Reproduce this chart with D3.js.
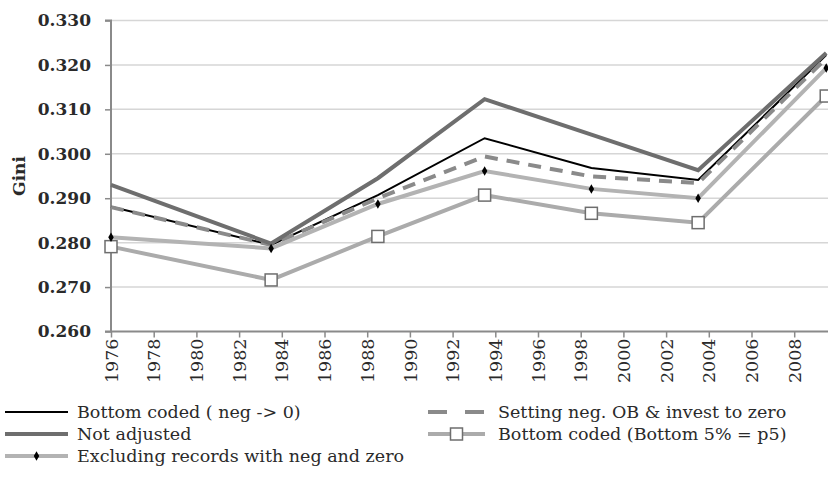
<!DOCTYPE html>
<html><head><meta charset="utf-8">
<script src="https://cdn.jsdelivr.net/npm/d3@7"></script>
<style>
html,body{margin:0;padding:0;background:#fff;}
svg{display:block;}
text{font-family:"DejaVu Serif",serif;fill:#2a2a2a;}
</style></head>
<body>
<svg id="c" width="828" height="494"></svg>
<script>
const years = [1976, 1983.5, 1988.5, 1993.5, 1998.5, 2003.5, 2009.5];
const bottomCoded = [0.2881, 0.2795, 0.2907, 0.3035, 0.2968, 0.2941, 0.3222];
const settingNeg  = [0.2880, 0.2795, 0.2900, 0.2994, 0.2949, 0.2934, 0.3215];
const notAdjusted = [0.2930, 0.2798, 0.2945, 0.3123, 0.3043, 0.2963, 0.3227];
const bottomP5    = [0.2791, 0.2716, 0.2814, 0.2907, 0.2866, 0.2845, 0.3130];
const excluding   = [0.2812, 0.2787, 0.2887, 0.2961, 0.2921, 0.2900, 0.3193];
const yTicks = [0.260, 0.270, 0.280, 0.290, 0.300, 0.310, 0.320, 0.330];
const xTicks = d3.range(1976, 2009, 2);
const seriesNames = ["Bottom coded ( neg -> 0)", "Setting neg. OB & invest to zero", "Not adjusted", "Bottom coded (Bottom 5% = p5)", "Excluding records with neg and zero"];

const svg = d3.select("#c");
const x = d3.scaleLinear().domain([1976, 2010]).range([111, 111 + 34 * 21.35]);
const y = d3.scaleLinear().domain([0.26, 0.33]).range([331.5, 20.5]);

// gridlines
svg.append("g").selectAll("line").data(yTicks.slice(1)).join("line")
  .attr("x1", 111).attr("x2", 828)
  .attr("y1", d => y(d)).attr("y2", d => y(d))
  .attr("stroke", "#d6d6d6").attr("stroke-width", 1.5);

// y axis
const yAx = svg.append("g").attr("transform", "translate(111,0)")
  .call(d3.axisLeft(y).tickValues(yTicks).tickFormat(d3.format(".3f")).tickSize(6).tickPadding(14));
yAx.select(".domain").attr("stroke", "#8a8a8a").attr("stroke-width", 2).attr("d", `M-6,${y(0.33)}H0V${y(0.26)}H-6`);
yAx.selectAll(".tick line").attr("stroke", "#8a8a8a").attr("stroke-width", 1.5);
yAx.selectAll(".tick text").attr("font-size", 17).attr("font-family", "DejaVu Serif").attr("fill", "#333").attr("font-weight", "bold");

// x axis
const xAx = svg.append("g").attr("transform", `translate(0,${y(0.26)})`)
  .call(d3.axisBottom(x).tickValues(xTicks).tickFormat(d3.format("d")).tickSize(6));
xAx.select(".domain").attr("stroke", "#8a8a8a").attr("stroke-width", 2).attr("d", `M111,0H828`);
xAx.selectAll(".tick line").attr("stroke", "#8a8a8a").attr("stroke-width", 1.5);
xAx.selectAll(".tick text").attr("font-size", 17.5).attr("font-family", "DejaVu Serif").attr("fill", "#2a2a2a")
  .attr("transform", "rotate(-90)").attr("text-anchor", "end").attr("x", -7).attr("y", 0).attr("dy", "0.35em");

// y label
svg.append("text").attr("transform", "translate(19,176) rotate(-90)").attr("text-anchor", "middle")
  .attr("dy", "0.35em").attr("font-size", 17).attr("font-weight", "bold").attr("fill", "#333").text("Gini");

const line = d3.line().x((d, i) => x(years[i])).y(d => y(d));
const styles = [
  {data: bottomCoded, stroke: "#000", w: 2, dash: null},
  {data: settingNeg, stroke: "#8a8a8a", w: 4, dash: "13,9"},
  {data: notAdjusted, stroke: "#6e6e6e", w: 4, dash: null},
  {data: bottomP5, stroke: "#ababab", w: 4, dash: null},
  {data: excluding, stroke: "#b3b3b3", w: 4, dash: null}
];
styles.forEach(s => {
  svg.append("path").datum(s.data).attr("d", line).attr("fill", "none")
    .attr("stroke", s.stroke).attr("stroke-width", s.w).attr("stroke-dasharray", s.dash)
    .attr("stroke-linejoin", "miter");
});
// markers
svg.append("g").selectAll("rect").data(bottomP5).join("rect")
  .attr("x", (d, i) => x(years[i]) - 6).attr("y", d => y(d) - 6).attr("width", 12).attr("height", 12)
  .attr("fill", "#fff").attr("stroke", "#6e6e6e").attr("stroke-width", 1.5);
const diamond = d3.symbol().type(d3.symbolDiamond).size(26);
svg.append("g").selectAll("path").data(excluding).join("path")
  .attr("transform", (d, i) => `translate(${x(years[i])},${y(d)})`).attr("d", diamond).attr("fill", "#000");

// legend
const lg = svg.append("g");
const items = [
  {col: 0, row: 0, s: styles[0], name: seriesNames[0]},
  {col: 1, row: 0, s: styles[1], name: seriesNames[1], dash: "19,18"},
  {col: 0, row: 1, s: styles[2], name: seriesNames[2]},
  {col: 1, row: 1, s: styles[3], name: seriesNames[3], marker: "square"},
  {col: 0, row: 2, s: styles[4], name: seriesNames[4], marker: "diamond"}
];
const colX = [5, 428], textX = [77, 498], rowY = [412, 434, 456];
items.forEach(it => {
  const x0 = colX[it.col], yy = rowY[it.row], x1 = x0 + (it.col ? 57 : 63);
  lg.append("line").attr("x1", x0).attr("x2", x1).attr("y1", yy).attr("y2", yy)
    .attr("stroke", it.s.stroke).attr("stroke-width", it.s.w).attr("stroke-dasharray", it.dash || it.s.dash);
  const cx = (x0 + x1) / 2;
  if (it.marker === "square") lg.append("rect").attr("x", cx - 6).attr("y", yy - 6).attr("width", 12).attr("height", 12)
    .attr("fill", "#fff").attr("stroke", "#6e6e6e").attr("stroke-width", 1.5);
  if (it.marker === "diamond") lg.append("path").attr("transform", `translate(${cx},${yy})`).attr("d", diamond).attr("fill", "#000");
  lg.append("text").attr("x", textX[it.col]).attr("y", yy).attr("dy", "0.35em").attr("font-size", 17.5).text(it.name);
});
</script>
</body></html>
